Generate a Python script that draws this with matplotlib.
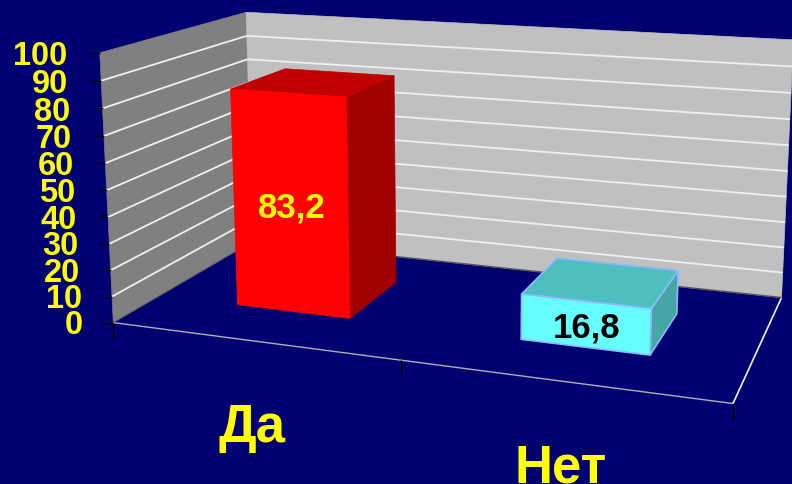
import numpy as np
import matplotlib
matplotlib.use("Agg")
import matplotlib.pyplot as plt
from matplotlib.patches import Polygon

categories = ["Да", "Нет"]
values = [83.2, 16.8]
value_labels = ["83,2", "16,8"]
y_ticks = [0, 10, 20, 30, 40, 50, 60, 70, 80, 90, 100]

NAVY = "#000070"
FONT = "Liberation Sans"

# box corners (across, depth, value) and where they land in the picture
box_3d = [(0, 0, 0), (0, 0, 100), (0, 1, 0), (0, 1, 100), (1, 1, 0), (1, 1, 100), (1, 0, 0)]
box_px = [(115, 323), (98, 54), (251, 243), (248, 13), (782, 298), (793, 41), (733, 405)]

bar_mids = [0.25, 0.747]
bar_width = 0.205
bar_depth = (0.3, 0.71)


def fit_camera(world, pixels):
    rows, rhs = [], []
    for (a, d, v), (px, py) in zip(world, pixels):
        v = v / 100
        rows.append([a, d, v, 1, 0, 0, 0, 0, -px * a, -px * d, -px * v])
        rows.append([0, 0, 0, 0, a, d, v, 1, -py * a, -py * d, -py * v])
        rhs += [px, py]
    sol = np.linalg.lstsq(np.array(rows, float), np.array(rhs, float), rcond=None)[0]
    return np.append(sol, 1).reshape(3, 4)


cam = fit_camera(box_3d, box_px)


def pt(a, d, v):
    h = cam @ np.array([a, d, v / 100, 1])
    return h[0] / h[2], h[1] / h[2]


def face(ax, corners, color, edge=None, z=3):
    ax.add_patch(Polygon([pt(*c) for c in corners], closed=True, facecolor=color,
                         edgecolor=edge if edge else color, linewidth=1.2 if edge else 0.5, zorder=z))


def line(ax, p0, p1, color, lw, z=2):
    ax.plot([p0[0], p1[0]], [p0[1], p1[1]], color=color, lw=lw, zorder=z, solid_capstyle="butt")


def draw_bar(ax, mid, height, front, top, side, edge=None):
    a0, a1 = mid - bar_width / 2, mid + bar_width / 2
    d0, d1 = bar_depth
    face(ax, [(a1, d0, 0), (a1, d1, 0), (a1, d1, height), (a1, d0, height)], side, edge)
    face(ax, [(a0, d0, height), (a1, d0, height), (a1, d1, height), (a0, d1, height)], top, edge)
    face(ax, [(a0, d0, 0), (a1, d0, 0), (a1, d0, height), (a0, d0, height)], front, edge)


fig = plt.figure(figsize=(7.92, 4.85), dpi=100, facecolor=NAVY)
ax = fig.add_axes([0, 0, 1, 1])
ax.set_xlim(0, 792)
ax.set_ylim(485, 0)
ax.axis("off")

# walls
face(ax, [(0, 0, 0), (0, 1, 0), (0, 1, 100), (0, 0, 100)], "#808080", z=1)
face(ax, [(0, 1, 0), (1, 1, 0), (1, 1, 100), (0, 1, 100)], "#c0c0c0", z=1)

for t in y_ticks[1:-1]:
    line(ax, pt(0, 0, t), pt(0, 1, t), "#f0f0f0", 1.3)
    line(ax, pt(0, 1, t), pt(1, 1, t), "#f0f0f0", 1.3)

# floor edges
line(ax, pt(0, 0, 0), pt(1, 0, 0), "#b0b0b0", 1.0)
line(ax, pt(1, 0, 0), pt(1, 1, 0), "#f0f0f0", 1.2)
line(ax, pt(0, 1, 0), pt(1, 1, 0), "#555555", 1.0)
line(ax, pt(0, 0, 0), pt(0, 1, 0), "#555555", 0.6)

# axis ticks and labels, they drift away from the wall towards the top
for t in y_ticks:
    x, y = pt(0, 0, t)
    line(ax, (x - 9, y), (x, y), "black", 1.0)
    ax.text(x - 30 - 3 * t / 100, y + 1.5 + 1.5 * t / 100, str(t), color="#ffff00", fontsize=23.5,
            fontweight="bold", family=FONT, ha="right", va="center", zorder=5)

for a in [0, 0.5, 1]:
    x, y = pt(a, 0, 0)
    line(ax, (x, y), (x, y + 16), "black", 1.0)

draw_bar(ax, bar_mids[0], values[0], "#ff0000", "#c00000", "#a00000")
draw_bar(ax, bar_mids[1], values[1], "#66ffff", "#4dbfbf", "#46a6a6", edge="#8fb8ff")

# value labels sit on the front faces
for mid, val, lab, col in zip(bar_mids, values, value_labels, ["#ffff00", "black"]):
    x, y = pt(mid, bar_depth[0], val / 2)
    ax.text(x + 1, y + 3, lab, color=col, fontsize=25, fontweight="bold", family=FONT,
            ha="center", va="center", zorder=6)

ax.text(252, 442, categories[0], color="#ffff00", fontsize=38, fontweight="bold", family=FONT,
        ha="center", va="baseline", zorder=5)
ax.text(561, 483, categories[1], color="#ffff00", fontsize=38, fontweight="bold", family=FONT,
        ha="center", va="baseline", zorder=5)

fig.savefig("out.png", dpi=100, facecolor=NAVY)
